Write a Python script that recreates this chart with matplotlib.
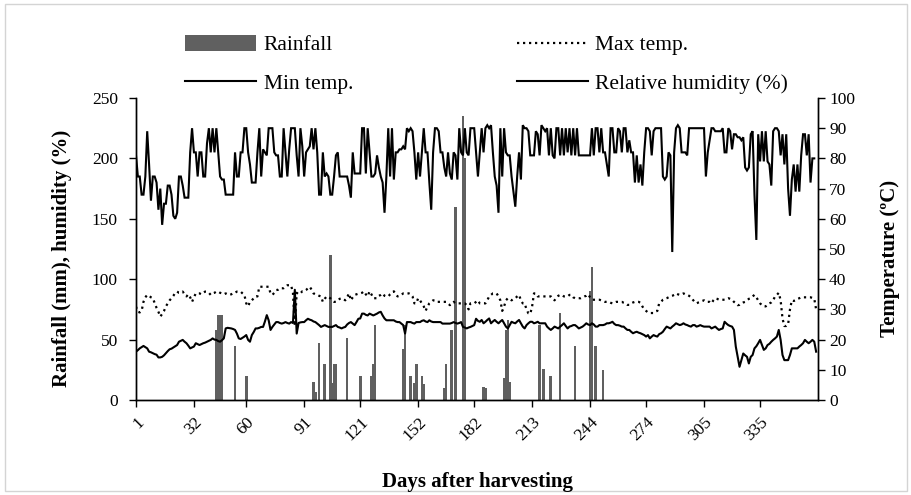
import matplotlib
matplotlib.use("Agg")
import matplotlib.pyplot as plt
from matplotlib.patches import Patch, Rectangle
from matplotlib.lines import Line2D
import numpy as np

plt.rcParams['font.family'] = ['Liberation Serif', 'DejaVu Serif']

# ---------------- data ----------------
tick_days = [1, 32, 60, 91, 121, 152, 182, 213, 244, 274, 305, 335]

rain_days = [44, 45, 46, 47, 54, 60, 96, 97, 99, 102, 105, 106, 107, 108, 114, 121,
             127, 128, 129, 144, 145, 148, 150, 151, 154, 155, 166, 167, 170, 172,
             176, 177, 187, 188, 198, 199, 200, 201, 217, 219, 223, 228, 236, 244,
             245, 247, 251]
rain_mm = [58, 70, 70, 70, 45, 20, 15, 7, 47, 30, 120, 14, 30, 30, 51, 20,
           20, 30, 62, 42, 62, 20, 14, 30, 20, 13, 10, 30, 58, 160,
           235, 200, 11, 10, 18, 58, 66, 15, 62, 26, 20, 72, 45, 90,
           110, 45, 25]

max_temp = [
    30.9, 29.2, 29.0, 29.5, 32.5, 34.0, 34.8, 34.5, 34.0, 33.7,
    32.1, 30.5, 29.2, 27.6, 28.5, 29.5, 31.0, 32.0, 33.0, 33.7,
    34.5, 35.5, 35.9, 35.5, 35.5, 35.9, 35.0, 34.3, 35.0, 34.0,
    32.5, 34.0, 35.3, 35.3, 35.3, 35.0, 35.5, 35.9, 35.9, 35.5,
    34.8, 35.3, 35.5, 35.9, 35.9, 35.5, 35.3, 35.0, 35.3, 35.0,
    34.8, 35.0, 35.5, 35.5, 35.9, 35.9, 35.9, 35.3, 34.8, 32.0,
    31.0, 32.5, 33.0, 33.7, 34.3, 34.3, 37.5, 37.5, 37.5, 37.5,
    37.5, 37.5, 35.3, 34.8, 35.5, 36.4, 36.5, 37.0, 37.0, 37.0,
    37.5, 38.0, 38.0, 38.0, 35.5, 24.5, 35.5, 35.0, 35.3, 36.0,
    36.0, 36.4, 37.0, 37.5, 36.5, 35.3, 35.0, 34.8, 34.5, 34.3,
    32.5, 33.5, 34.3, 34.0, 33.7, 33.0, 32.5, 32.5, 33.0, 33.5,
    33.7, 33.5, 33.0, 34.0, 35.3, 33.0, 34.0, 34.8, 35.0, 35.2,
    35.3, 35.5, 36.0, 35.0, 34.3, 36.0, 35.0, 33.7, 33.7, 33.7,
    34.5, 34.8, 35.3, 34.5, 34.3, 34.3, 35.0, 35.5, 36.0, 35.0,
    34.3, 34.5, 34.8, 35.3, 35.3, 35.3, 35.3, 35.0, 34.3, 32.0,
    32.0, 33.7, 33.0, 32.0, 31.0, 29.5, 31.0, 32.0, 32.5, 33.0,
    33.0, 32.5, 32.5, 32.5, 32.5, 32.5, 32.5, 32.0, 31.4, 32.0,
    32.5, 32.0, 32.0, 32.0, 32.0, 32.0, 32.0, 31.4, 30.0, 32.0,
    32.0, 32.0, 32.5, 33.0, 32.0, 32.0, 32.0, 32.0, 33.0, 34.3,
    34.8, 35.3, 35.3, 35.3, 34.3, 33.0, 29.5, 31.0, 33.0, 33.7,
    33.5, 33.0, 33.5, 33.7, 34.3, 34.8, 33.0, 32.0, 32.0, 30.0,
    28.7, 28.5, 31.0, 35.3, 35.3, 34.3, 34.3, 34.3, 34.3, 34.3,
    34.3, 34.3, 34.3, 33.5, 33.0, 34.0, 34.5, 34.8, 34.8, 34.3,
    34.3, 34.3, 34.8, 34.8, 34.0, 33.7, 33.7, 33.7, 33.7, 34.0,
    34.3, 34.5, 35.0, 34.0, 33.2, 33.2, 33.2, 33.2, 33.2, 33.0,
    32.8, 32.5, 32.5, 32.5, 32.2, 32.0, 32.3, 32.5, 32.5, 32.5,
    32.5, 32.2, 32.0, 31.5, 31.5, 32.0, 32.3, 32.5, 32.5, 32.5,
    32.2, 31.0, 30.0, 29.5, 29.0, 28.8, 28.8, 28.8, 29.3, 29.5,
    32.0, 32.5, 33.2, 33.5, 33.7, 34.0, 34.3, 34.5, 34.8, 35.3,
    35.0, 34.8, 35.0, 35.3, 35.0, 34.8, 34.5, 34.0, 33.2, 32.5,
    32.0, 32.3, 32.5, 32.8, 33.0, 32.5, 32.5, 32.5, 32.0, 33.0,
    33.7, 33.5, 33.2, 33.2, 33.2, 33.2, 33.5, 33.7, 33.5, 33.2,
    32.5, 32.0, 31.4, 31.5, 32.0, 32.3, 32.5, 33.0, 33.5, 33.7,
    34.3, 34.8, 34.0, 33.0, 32.0, 31.4, 31.0, 31.0, 31.5, 32.0,
    32.3, 33.0, 34.3, 34.8, 35.5, 33.0, 27.0, 24.5, 24.5, 25.0,
    30.0, 33.0, 32.8, 33.0, 33.5, 33.7, 34.0, 34.0, 34.0, 34.0,
    34.0, 34.0, 33.8, 33.5, 30.0]

min_temp = [
    16.0, 16.5, 17.1, 17.5, 17.9, 17.5, 17.1, 16.0, 15.8, 15.5,
    15.2, 15.0, 14.1, 14.1, 14.3, 14.8, 15.5, 16.2, 16.8, 17.0,
    17.4, 17.8, 18.2, 19.3, 19.6, 19.9, 19.3, 18.8, 18.0, 17.1,
    17.4, 17.7, 18.8, 18.5, 18.2, 18.5, 18.8, 19.0, 19.3, 19.6,
    19.9, 20.4, 20.0, 19.9, 19.5, 19.3, 19.8, 20.4, 23.7, 23.9,
    23.8, 23.7, 23.5, 23.2, 22.0, 20.4, 20.2, 20.6, 21.0, 21.5,
    19.9, 19.3, 21.5, 22.5, 23.7, 23.7, 23.9, 24.2, 24.2, 26.0,
    28.1, 26.4, 23.2, 24.2, 25.0, 25.8, 25.8, 25.5, 25.3, 25.5,
    25.8, 25.5, 25.3, 25.8, 25.5, 36.5, 22.0, 25.5, 25.7, 25.8,
    25.8, 26.4, 26.9, 26.6, 26.4, 26.0, 25.8, 25.3, 24.8, 24.2,
    24.5, 24.8, 24.5, 24.2, 24.2, 24.2, 24.5, 24.8, 24.2, 24.0,
    23.7, 24.0, 24.2, 25.0, 25.5, 25.8, 25.3, 24.8, 25.8, 26.9,
    27.0, 28.6, 28.6, 28.2, 28.0, 28.6, 28.3, 28.0, 28.3, 28.6,
    29.0, 29.2, 28.0, 27.0, 26.4, 26.4, 26.4, 26.4, 26.4, 26.0,
    25.8, 25.8, 25.3, 24.8, 22.0, 25.8, 25.8, 25.8, 25.5, 25.3,
    25.8, 25.8, 25.8, 26.2, 26.4, 26.0, 25.8, 26.4, 26.0, 25.8,
    25.8, 25.8, 25.8, 25.8, 25.3, 25.3, 25.3, 25.3, 25.3, 25.5,
    25.8, 25.5, 25.3, 25.5, 25.8, 24.2, 24.0, 23.7, 24.0, 24.2,
    24.5, 24.8, 26.9, 26.2, 25.9, 26.5, 25.4, 25.9, 26.5, 27.0,
    25.4, 26.0, 26.5, 25.9, 25.4, 26.0, 26.5, 25.4, 24.3, 23.7,
    24.8, 25.9, 25.6, 25.4, 26.0, 26.5, 25.4, 24.3, 23.7, 24.8,
    25.4, 25.9, 25.9, 25.4, 25.6, 25.9, 25.4, 25.4, 25.4, 25.4,
    24.3, 23.7, 23.2, 23.7, 24.3, 24.0, 23.7, 24.3, 24.8, 25.4,
    24.5, 23.7, 24.3, 24.5, 24.8, 24.8, 24.3, 23.7, 24.0, 24.3,
    24.8, 25.4, 25.0, 24.8, 25.4, 25.0, 24.3, 24.3, 24.8, 24.8,
    24.8, 25.0, 25.4, 25.4, 25.6, 25.9, 25.2, 24.8, 24.8, 24.6,
    24.3, 24.3, 23.7, 23.2, 23.2, 22.6, 22.1, 22.4, 22.6, 22.3,
    22.1, 21.8, 21.5, 21.0, 21.5, 20.4, 21.0, 21.5, 21.2, 21.0,
    21.8, 22.1, 22.6, 23.5, 24.3, 24.0, 23.7, 24.3, 24.8, 25.4,
    25.1, 24.8, 25.0, 25.4, 25.0, 24.8, 24.5, 24.3, 24.8, 24.8,
    24.3, 24.5, 24.8, 24.5, 24.3, 24.3, 24.3, 24.3, 23.7, 24.0,
    24.3, 23.7, 23.2, 23.5, 23.7, 25.9, 25.3, 24.8, 24.5, 24.3,
    23.2, 17.7, 14.3, 11.0, 13.2, 15.4, 14.8, 14.3, 12.1, 14.3,
    14.9, 17.1, 17.8, 18.8, 19.9, 18.2, 16.6, 17.1, 18.2, 18.6,
    19.3, 19.9, 20.4, 21.0, 23.2, 19.9, 14.9, 13.2, 13.2, 13.2,
    14.9, 17.1, 17.1, 17.1, 17.1, 17.7, 18.2, 18.8, 19.9, 19.3,
    18.8, 19.3, 19.9, 19.3, 16.0]

humidity = [
    81, 74, 74, 68, 68, 74, 89, 78, 66, 74,
    74, 72, 63, 70, 58, 65, 65, 71, 71, 68,
    61, 60, 62, 74, 74, 71, 67, 67, 67, 82,
    90, 82, 82, 74, 82, 82, 74, 74, 85, 90,
    82, 90, 82, 90, 82, 74, 73, 73, 68, 68,
    68, 68, 68, 82, 74, 74, 82, 82, 90,
    90, 82, 78, 72, 72, 72, 82, 90, 74, 83,
    82, 81, 90, 90, 90, 82, 81, 81, 74, 74,
    90, 82, 74, 83, 90, 90, 90, 81, 74, 90,
    84, 74, 82, 83, 84, 90, 83, 90, 82, 68,
    68, 82, 74, 75, 74, 68, 68, 74, 81, 82,
    74, 74, 74, 74, 74, 71, 67, 82, 75, 75,
    75, 75,
    90, 90, 75, 90, 82, 74, 74, 75, 81, 77,
    74, 72, 62, 74, 90, 74, 90, 73, 82, 82,
    83, 83, 84, 83, 90, 89, 90, 89, 82, 73,
    82, 74, 82, 90, 82, 82, 72, 63, 82, 90,
    90, 89, 82, 82, 77, 74, 82, 75, 73, 82,
    81, 73, 90, 82, 81, 90, 82, 81, 90, 90,
    90, 82,
    74, 82, 90, 82, 90, 91, 90, 91, 82, 74,
    71, 62, 90, 74, 90, 82, 81, 81, 74, 69,
    64, 74, 82, 73, 91, 90, 90, 89, 81, 81,
    81, 89, 88, 81, 91, 90, 89, 90, 81, 90,
    81, 80, 90, 90, 81, 90, 81, 90, 82, 90,
    81, 90, 81, 90, 81, 81, 81, 81, 81, 81,
    81,
    90, 81, 90, 90, 82, 90, 82, 82, 78, 74,
    90, 90, 82, 82, 90, 89, 82, 90, 90, 82,
    86, 82, 82, 72, 81, 72, 78, 71, 82, 90,
    90, 89, 81, 89, 90, 90, 90, 90, 74, 73,
    74, 82, 81, 49, 82, 90, 91, 90, 82, 82,
    82, 81, 90, 90, 90, 90, 90, 90, 90, 90,
    90,
    74, 82, 86, 90, 90, 89, 89, 89, 89, 90,
    82, 82, 90, 89, 83, 88, 88, 87, 87, 86,
    87, 77, 76, 77, 88, 89, 68, 53, 88, 79,
    89, 79, 89, 79, 78, 71, 89, 90, 90,
    89, 81, 88, 78, 88, 70, 61, 73, 78,
    69, 78, 69, 81, 88, 88, 81, 88, 72, 80, 80]

days = np.arange(1, len(max_temp) + 1)
rain = np.zeros(len(days))
for d, v in zip(rain_days, rain_mm):
    rain[d - 1] = v

# ---------------- figure ----------------
W, H = 912, 495
fig = plt.figure(figsize=(W / 100, H / 100), dpi=100)
ax = fig.add_axes([136 / W, 1 - 400 / H, (818 - 136) / W, (400 - 98) / H])
ax2 = ax.twinx()

bar_col = '#606060'
ax.bar(days, rain, width=1.4, color=bar_col, linewidth=0, zorder=2)

ax2.plot(days[:len(humidity)], humidity[:len(days)], color='black', lw=1.5,
         solid_joinstyle='miter')
ax2.plot(days, min_temp, color='black', lw=1.5)
ax2.plot(days, max_temp, color='black', lw=1.6, dashes=(1.0, 1.7))

ax.set_xlim(1, 366)
ax.set_ylim(0, 250)
ax2.set_ylim(0, 100)
ax.set_yticks(range(0, 251, 50))
ax2.set_yticks(range(0, 101, 10))
ax.set_xticks(tick_days)
ax.set_xticklabels([str(t) for t in tick_days], rotation=45, ha='right',
                   va='top', rotation_mode='anchor')

for a in (ax, ax2):
    a.spines['top'].set_visible(False)
    for s in a.spines.values():
        s.set_linewidth(1.0)
    a.tick_params(direction='out', length=5, width=1.0, labelsize=12.5, pad=3)
ax.tick_params(axis='y', pad=8)
ax.tick_params(axis='x', pad=5)

ax.set_zorder(ax2.get_zorder() - 1)
ax2.patch.set_visible(False)

fig.text(62 / W, 1 - 258 / H, 'Rainfall (mm), humidity (%)', rotation=90,
         ha='center', va='center', fontsize=15, fontweight='bold')
fig.text(890 / W, 1 - 258 / H, 'Temperature (ºC)', rotation=90,
         ha='center', va='center', fontsize=15, fontweight='bold')
fig.text(478 / W, 1 - 482 / H, 'Days after harvesting',
         ha='center', va='center', fontsize=15, fontweight='bold')

handles = [Patch(facecolor=bar_col, edgecolor='none'),
           Line2D([], [], color='black', lw=1.5),
           Line2D([], [], color='black', lw=1.6, dashes=(1.0, 1.7)),
           Line2D([], [], color='black', lw=1.5)]
labels = ['Rainfall', 'Min temp.', 'Max temp.', 'Relative humidity (%)']
fig.legend(handles, labels, ncol=2, loc='upper left',
           bbox_to_anchor=(185 / W, 1 - 35 / H), frameon=False,
           fontsize=15.5, handlelength=3.3, handleheight=0.75,
           handletextpad=0.35, columnspacing=7.6, labelspacing=0.85,
           borderpad=0, borderaxespad=0)

fig.patches.append(Rectangle((5 / W, 4 / H), 902 / W, 487 / H,
                             transform=fig.transFigure, fill=False,
                             edgecolor='#d4d4d4', lw=1.0))

fig.savefig('out.png', dpi=100)
